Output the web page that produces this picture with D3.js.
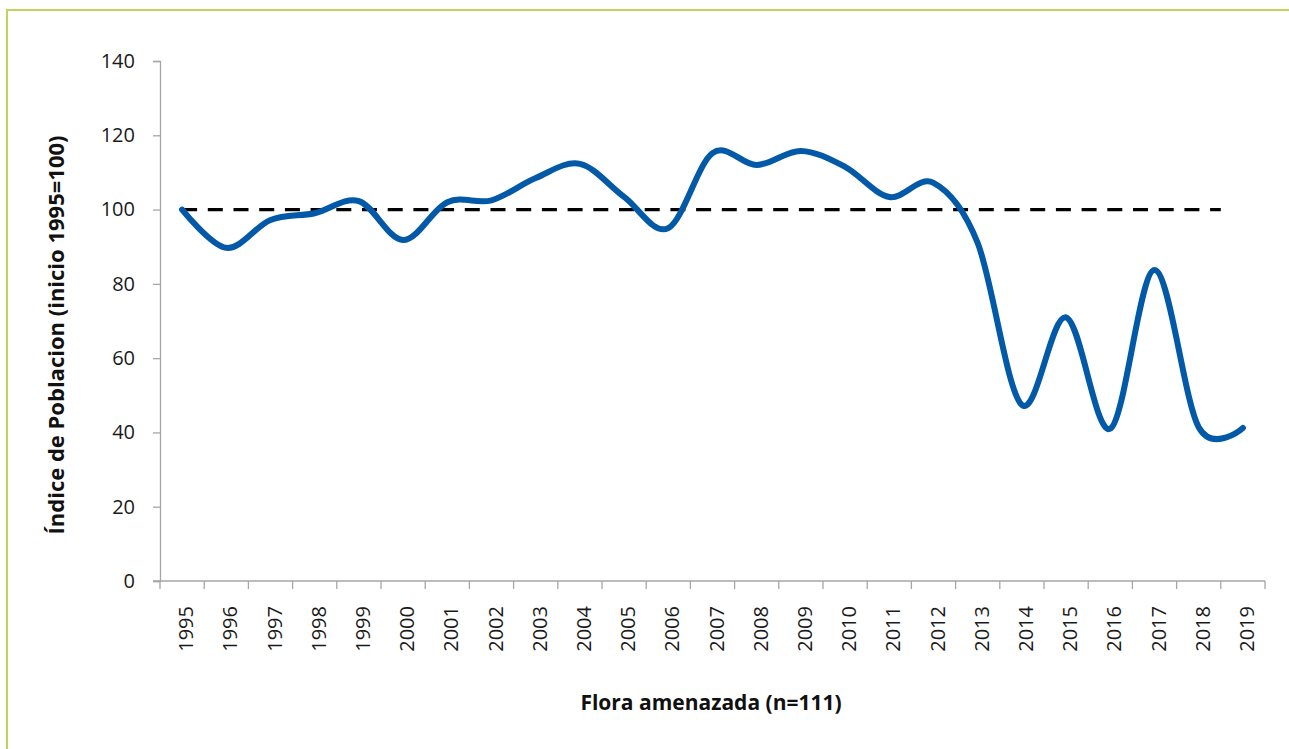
<!DOCTYPE html>
<html>
<head>
<meta charset="utf-8">
<script src="https://cdn.jsdelivr.net/npm/d3@7"></script>
<style>
  html, body { margin: 0; padding: 0; background: #fff; }
  svg { display: block; }
</style>
</head>
<body>
<svg id="chart" width="1289" height="749"></svg>
<script>
const years = ["1995","1996","1997","1998","1999","2000","2001","2002","2003","2004","2005","2006","2007","2008","2009","2010","2011","2012","2013","2014","2015","2016","2017","2018","2019"];
const indexValues = [100, 89.7, 97.2, 99, 102.3, 91.8, 102, 102.5, 108.5, 112.3, 103.4, 95, 115.2, 112, 115.8, 111.5, 103.4, 107.2, 91, 47.4, 71, 41, 83.7, 41.4, 41.2];
const baselineValue = 100;
const yTicks = [0, 20, 40, 60, 80, 100, 120, 140];
const xTitle = "Flora amenazada (n=111)";
const yTitle = "Índice de Poblacion (inicio 1995=100)";

const svg = d3.select("#chart");
const font = "'Open Sans', sans-serif";

// outer border
svg.append("rect")
  .attr("x", 7).attr("y", 10)
  .attr("width", 1300).attr("height", 760)
  .attr("fill", "#fff")
  .attr("stroke", "#c3d35b").attr("stroke-width", 2);

const plot = { left: 160, right: 1265, top: 61, bottom: 581 };

const x = d3.scaleBand().domain(years).range([plot.left, plot.right]).paddingInner(0).paddingOuter(0);
const y = d3.scaleLinear().domain([0, 140]).range([plot.bottom, plot.top]);
const cx = d => x(d) + x.bandwidth() / 2;

const axisColor = "#a6a6a6";

// y axis
const yAxis = d3.axisLeft(y).tickValues(yTicks).tickSize(7).tickPadding(18);
const gy = svg.append("g").attr("transform", `translate(${plot.left},0)`).call(yAxis);
gy.select(".domain").attr("stroke", axisColor).attr("stroke-width", 1.3);
gy.selectAll(".tick line").attr("stroke", axisColor).attr("stroke-width", 1.3);
gy.selectAll(".tick text")
  .attr("font-family", font).attr("font-size", 20).attr("fill", "#1a1a1a");

// x axis line + ticks at category boundaries
svg.append("line")
  .attr("x1", plot.left - 7).attr("x2", x.range()[1])
  .attr("y1", y(0)).attr("y2", y(0))
  .attr("stroke", axisColor).attr("stroke-width", 1.3);
const boundaries = years.map(d => x(d)).concat([x.range()[1]]);
svg.append("g").selectAll("line").data(boundaries).join("line")
  .attr("x1", d => d).attr("x2", d => d)
  .attr("y1", y(0)).attr("y2", y(0) + 8)
  .attr("stroke", axisColor).attr("stroke-width", 1.3);

// x tick labels (rotated)
svg.append("g").selectAll("text").data(years).join("text")
  .attr("transform", d => `translate(${cx(d)},${y(0) + 25}) rotate(-90)`)
  .attr("text-anchor", "end")
  .attr("dy", "0.55em")
  .attr("font-family", font).attr("font-size", 20).attr("fill", "#1a1a1a")
  .text(d => d);

// baseline dashed line
svg.append("line")
  .attr("x1", cx(years[0]))
  .attr("x2", x(years[years.length - 1]))
  .attr("y1", y(baselineValue)).attr("y2", y(baselineValue))
  .attr("stroke", "#000").attr("stroke-width", 3.2)
  .attr("stroke-dasharray", "15,10.7");

// smooth data line
const line = d3.line()
  .x((d, i) => cx(years[i]))
  .y(d => y(d))
  .curve(d3.curveCardinal.tension(0));
svg.append("path")
  .datum(indexValues)
  .attr("d", line)
  .attr("fill", "none")
  .attr("stroke", "#0259a8")
  .attr("stroke-width", 6)
  .attr("stroke-linecap", "round")
  .attr("stroke-linejoin", "round");

// axis titles
svg.append("text")
  .attr("x", 711).attr("y", 703)
  .attr("text-anchor", "middle").attr("dy", "0.35em")
  .attr("font-family", font).attr("font-size", 21).attr("font-weight", "bold").attr("fill", "#111")
  .text(xTitle);

svg.append("text")
  .attr("transform", `translate(56,335) rotate(-90)`)
  .attr("text-anchor", "middle").attr("dy", "0.35em")
  .attr("font-family", font).attr("font-size", 22).attr("font-weight", "bold").attr("fill", "#111")
  .text(yTitle);
</script>
</body>
</html>
